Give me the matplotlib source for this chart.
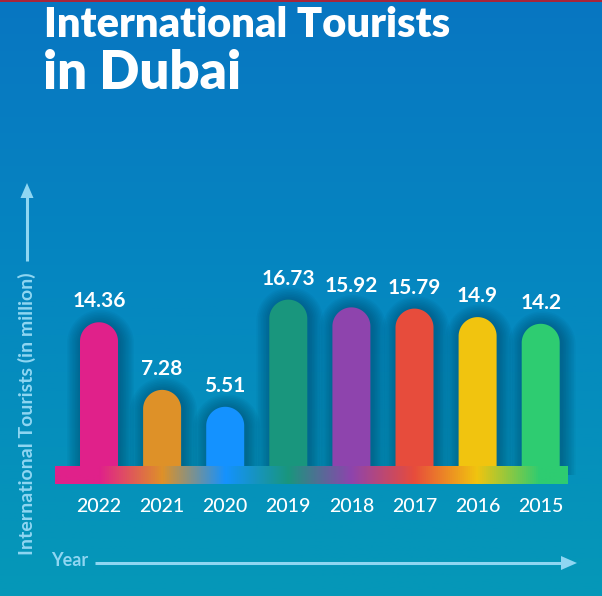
import matplotlib
matplotlib.use('Agg')
import matplotlib.pyplot as plt
import numpy as np
from matplotlib.patches import Polygon
from matplotlib.colors import LinearSegmentedColormap, to_rgb

# ---------------- data ----------------
years = ['2022', '2021', '2020', '2019', '2018', '2017', '2016', '2015']
values = [14.36, 7.28, 5.51, 16.73, 15.92, 15.79, 14.9, 14.2]
colors = ['#e0218a', '#de9128', '#1492ff', '#19967d',
          '#8e44ad', '#e74c3c', '#f1c40f', '#2ecc71']
title1 = 'International Tourists'
title2 = 'in Dubai'
ylabel = 'International Tourists (in million)'
xlabel = 'Year'

# ---------------- layout ----------------
W, H = 602, 596
PX_X0, PX_DX = 99, 63.1      # pixel x of first bar, pixel spacing per category
PX_Y0, PX_DY = 459.4, 9.55   # pixel y of value 0, pixels per unit
FONT = ['Lato', 'DejaVu Sans']
LIGHT = '#8fd6f2'

def dx(px):
    return (px - PX_X0) / PX_DX

def dy(py):
    return (PX_Y0 - py) / PX_DY

fig = plt.figure(figsize=(W / 100, H / 100), dpi=100)
ax = fig.add_axes([0, 0, 1, 1])
ax.set_xlim(dx(0), dx(W))
ax.set_ylim(dy(H), dy(0))
ax.axis('off')

# background gradient
bg_cmap = LinearSegmentedColormap.from_list('bg', ['#0876c2', '#0588c0', '#0598b8'])
grad = np.linspace(0, 1, 256).reshape(-1, 1)
ax.imshow(grad, cmap=bg_cmap, aspect='auto', zorder=0,
          extent=(dx(0), dx(W), dy(H), dy(0)), origin='upper')
# top red line
ax.fill_between([dx(0), dx(W)], dy(0), dy(2.5), color='#a8243a', zorder=1, lw=0)

# bars with rounded tops
bw_px = 38
bw = bw_px / PX_DX
ry = (bw_px / 2) / PX_DY
bottom = dy(475)

def bar_shape(xc, top, half_w, r_y, ybot):
    th = np.linspace(np.pi, 0, 60)
    arc = np.column_stack([xc + half_w * np.cos(th), (top - r_y) + r_y * np.sin(th)])
    pts = np.vstack([[xc - half_w, ybot], arc, [xc + half_w, ybot]])
    return pts

for i, v in enumerate(values):
    # soft shadow
    for k in range(1, 10):
        e = k * 1.6
        hw = (bw_px / 2 + e) / PX_DX
        r_y2 = (bw_px / 2 + e) / PX_DY
        pts = bar_shape(i + 1.5 / PX_DX, v + e / PX_DY - 2 / PX_DY, hw, r_y2, bottom)
        ax.add_patch(Polygon(pts, closed=True, color='#002640', alpha=0.045, lw=0, zorder=2))
    pts = bar_shape(i, v, bw / 2, ry, bottom)
    ax.add_patch(Polygon(pts, closed=True, color=colors[i], lw=0, zorder=3))
    ax.text(i, v + 21 / PX_DY, f'{v:g}', ha='center', va='center', color='white',
            fontsize=15, fontweight='bold', family=FONT, zorder=5)
    ax.text(i, dy(506), years[i], ha='center', va='center', color='white',
            fontsize=14, fontweight='medium', family=FONT, zorder=5)

# rainbow base band
x_left, x_right = dx(55), dx(568)
n = len(values)
pos = [0.0] + [(i - x_left) / (x_right - x_left) for i in range(n)] + [1.0]
cols = [colors[0]] + colors + [colors[-1]]
band_cmap = LinearSegmentedColormap.from_list('band', list(zip(pos, [to_rgb(c) for c in cols])))
ax.imshow(np.linspace(0, 1, 512).reshape(1, -1), cmap=band_cmap, aspect='auto', zorder=4,
          extent=(x_left, x_right, dy(484), dy(466)))

# y axis arrow and label
ax.plot([dx(27), dx(27)], [dy(261), dy(196)], color=LIGHT, lw=2.2, zorder=5,
        solid_capstyle='butt')
ax.add_patch(Polygon([(dx(27), dy(183)), (dx(20.5), dy(198)), (dx(33.5), dy(198))],
                     closed=True, color=LIGHT, lw=0, zorder=5))
ax.text(dx(27), dy(414), ylabel, rotation=90, ha='center', va='center', color=LIGHT,
        fontsize=14, fontweight='bold', family=FONT, zorder=5)

# x axis arrow and label
ax.plot([dx(95), dx(563)], [dy(563), dy(563)], color=LIGHT, lw=2.2, zorder=5,
        solid_capstyle='butt')
ax.add_patch(Polygon([(dx(577), dy(563)), (dx(561), dy(556)), (dx(561), dy(570))],
                     closed=True, color=LIGHT, lw=0, zorder=5))
ax.text(dx(51), dy(561), xlabel, ha='left', va='center', color=LIGHT,
        fontsize=13, fontweight='bold', family=FONT, zorder=5)

# titles
fig.text(44 / W, 1 - 37 / H, title1, ha='left', va='baseline', color='white',
         fontsize=30, fontweight='heavy', family=FONT)
fig.text(43 / W, 1 - 89 / H, title2, ha='left', va='baseline', color='white',
         fontsize=38, fontweight='heavy', family=FONT)

fig.savefig('out.png', dpi=100)
